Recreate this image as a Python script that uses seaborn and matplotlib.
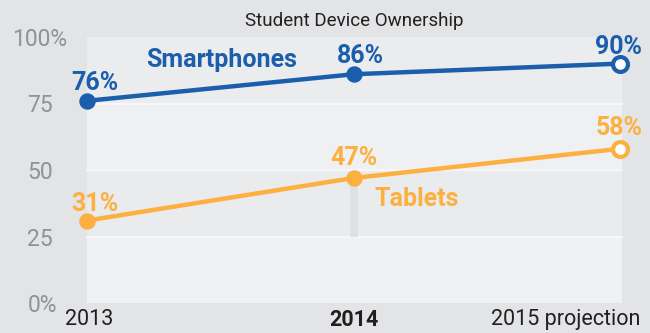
import matplotlib
matplotlib.use("Agg")
import matplotlib.pyplot as plt
import matplotlib.transforms as mtransforms
import seaborn as sns
import pandas as pd

# Data
years = ["2013", "2014", "2015 projection"]
smartphones = [76, 86, 90]
tablets = [31, 47, 58]
y_ticks = [0, 25, 50, 75, 100]
y_tick_labels = ["0%", "25", "50", "75", "100%"]

BLUE = "#1b5fac"
ORANGE = "#fbb040"
FIG_BG = "#e3e4e6"

sns.set_theme(style="white")
plt.rcParams["font.family"] = ["Roboto", "DejaVu Sans"]

df = pd.DataFrame({
    "pos": list(range(len(years))) * 2,
    "year": years * 2,
    "value": smartphones + tablets,
    "device": ["Smartphones"] * len(years) + ["Tablets"] * len(years),
})

fig = plt.figure(figsize=(6.5, 3.33), dpi=100, facecolor=FIG_BG)
ax = fig.add_axes([87 / 650, 1 - 303 / 333, 535 / 650, 266 / 333])
ax.set_facecolor("none")

# Alternating horizontal bands with thin light separators
band_colors = ["#f0f1f3", "#eaebed", "#eff0f2", "#ebecee"]
for i, c in enumerate(band_colors):
    ax.axhspan(y_ticks[i], y_ticks[i + 1], color=c, zorder=0, lw=0)
for y in y_ticks[1:-1]:
    ax.axhline(y, color="#f6f7f8", lw=1.6, zorder=0.5)

# Vertical guide under the 2014 tablet point
ax.plot([1, 1], [25, tablets[1]], color="#dfe0e1", lw=5.5,
        solid_capstyle="butt", zorder=1)

sns.lineplot(data=df, x="pos", y="value", hue="device",
             palette={"Smartphones": BLUE, "Tablets": ORANGE},
             lw=3.2, legend=False, ax=ax, zorder=2)
for line in ax.lines:
    line.set_clip_on(False)

for vals, col in [(smartphones, BLUE), (tablets, ORANGE)]:
    ax.scatter(range(len(years) - 1), vals[:-1], s=140, color=col,
               zorder=3, clip_on=False, linewidths=0)
    ax.scatter([len(years) - 1], vals[-1:], s=115, facecolor="white",
               edgecolor=col, linewidths=3, zorder=3, clip_on=False)

# Value labels
LABEL_FS = 18
offsets_s = [(6, 8), (5, 8), (-1, 7)]
offsets_t = [(6, 7), (0, 9), (-1, 10)]
for i, v in enumerate(smartphones):
    ax.annotate(f"{v}%", (i, v), xytext=offsets_s[i], textcoords="offset points",
                ha="center", va="baseline", color=BLUE, fontsize=LABEL_FS,
                fontweight="bold", annotation_clip=False)
for i, v in enumerate(tablets):
    ax.annotate(f"{v}%", (i, v), xytext=offsets_t[i], textcoords="offset points",
                ha="center", va="baseline", color=ORANGE, fontsize=LABEL_FS,
                fontweight="bold", annotation_clip=False)

ax.text(0.221, 88.7, "Smartphones", color=BLUE, fontsize=LABEL_FS,
        fontweight="bold", ha="left", va="baseline")
ax.text(1.079, 36.5, "Tablets", color=ORANGE, fontsize=LABEL_FS,
        fontweight="bold", ha="left", va="baseline")

ax.set_xlim(0, 2.007)
ax.set_ylim(0, 100)
for s in ax.spines.values():
    s.set_visible(False)

# Y axis labels
ax.set_yticks(y_ticks)
ax.set_yticklabels(y_tick_labels, color="#8c939a", fontsize=16.5,
                   fontweight="normal")
ax.tick_params(axis="y", length=0, pad=43)
for lab in ax.get_yticklabels():
    lab.set_horizontalalignment("left")
    if lab.get_text() == "100%":
        lab.set_transform(lab.get_transform() + mtransforms.ScaledTranslation(
            -15 / 100, 0, fig.dpi_scale_trans))

# X axis labels
ax.set_xticks(range(len(years)))
ax.set_xticklabels(years, color="#231f20", fontsize=15.5)
ax.tick_params(axis="x", length=0, pad=4)
xl = ax.get_xticklabels()
xl[1].set_fontweight("bold")
xl[2].set_horizontalalignment("right")
xl[2].set_transform(xl[2].get_transform() + mtransforms.ScaledTranslation(
    20 / 100, 0, fig.dpi_scale_trans))
xl[0].set_transform(xl[0].get_transform() + mtransforms.ScaledTranslation(
    2 / 100, 0, fig.dpi_scale_trans))
ax.set_xlabel("")
ax.set_ylabel("")

ax.set_title("Student Device Ownership", fontsize=13.5, color="#231f20", pad=8)

fig.savefig("out.png", dpi=100, facecolor=FIG_BG)
